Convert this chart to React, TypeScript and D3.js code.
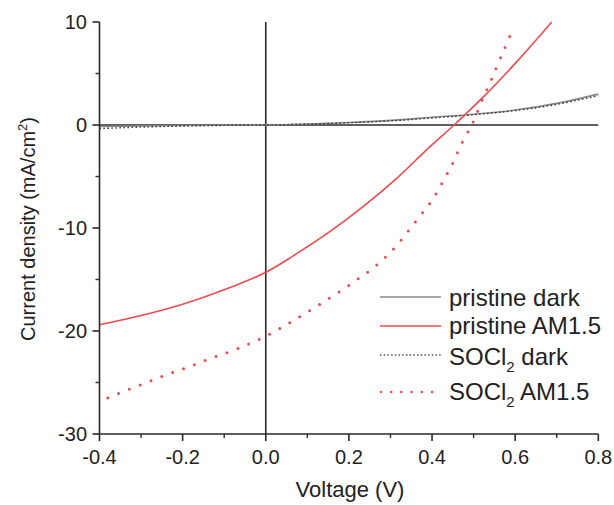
import React from "react";
import * as d3 from "d3";

const pristineDarkV = [-0.4, -0.3, -0.2, -0.1, 0, 0.1, 0.2, 0.3, 0.4, 0.5, 0.6, 0.7, 0.8];
const pristineDarkJ = [-0.15, -0.1, -0.05, -0.02, 0, 0.1, 0.25, 0.45, 0.75, 1.05, 1.45, 2.1, 3.0];

const soclDarkV = [-0.4, -0.3, -0.2, -0.1, 0, 0.1, 0.2, 0.3, 0.4, 0.5, 0.6, 0.7, 0.8];
const soclDarkJ = [-0.35, -0.2, -0.1, -0.04, 0, 0.08, 0.22, 0.4, 0.68, 1.0, 1.4, 2.0, 2.85];

const pristineLightV = [-0.4, -0.3, -0.2, -0.1, 0, 0.066, 0.154, 0.234, 0.315, 0.395, 0.453, 0.524, 0.604, 0.688];
const pristineLightJ = [-19.4, -18.5, -17.4, -16.0, -14.3, -12.7, -10.36, -7.93, -5.18, -2.1, 0, 2.75, 6.15, 10.0];

const soclLightV = [-0.38, -0.3, -0.242, -0.187, -0.131, -0.067, 0, 0.07, 0.15, 0.22, 0.27, 0.315, 0.36, 0.4, 0.43, 0.45, 0.47, 0.49, 0.5, 0.524, 0.538, 0.55, 0.573, 0.596];
const soclLightJ = [-26.5, -25.2, -24.3, -23.5, -22.65, -21.7, -20.5, -18.9, -16.9, -15.0, -13.5, -11.7, -9.4, -7.3, -5.2, -3.7, -1.9, -0.4, 0.4, 2.75, 3.95, 5.1, 7.3, 9.45];

const xTicks = [-0.4, -0.2, 0.0, 0.2, 0.4, 0.6, 0.8];
const xMinor = [-0.3, -0.1, 0.1, 0.3, 0.5, 0.7];
const yTicks = [-30, -20, -10, 0, 10];
const yMinor = [-25, -15, -5, 5];

const legendLabels = ["pristine dark", "pristine AM1.5", "SOCl", "SOCl"];

const RED = "#ee4a4f";
const GRAY = "#8a8a8a";
const AX = "#2a2a2a";

export default function App() {
  const x = d3.scaleLinear().domain([-0.4, 0.8]).range([99.5, 598.3]);
  const y = d3.scaleLinear().domain([-30, 10]).range([434, 22]);
  const line = (vs: number[], js: number[]) =>
    d3.line<number>().x((_, i) => x(vs[i])).y((_, i) => y(js[i])).curve(d3.curveCatmullRom)(vs) || "";

  const font = "'Liberation Sans', Arial, sans-serif";
  const [x0, x1] = x.range();
  const [yb, yt] = y.range();

  return (
    <svg width={614} height={505} style={{ position: "absolute", left: 0, top: 0, background: "#fff" }} fontFamily={font}>
      {/* zero lines */}
      <line x1={x0} x2={x1} y1={y(0)} y2={y(0)} stroke={AX} strokeWidth={1.6} />
      <line x1={x(0)} x2={x(0)} y1={yb} y2={yt} stroke={AX} strokeWidth={1.6} />

      {/* curves */}
      <path d={line(pristineDarkV, pristineDarkJ)} fill="none" stroke={GRAY} strokeWidth={1.6} />
      <path d={line(soclDarkV, soclDarkJ)} fill="none" stroke="#333" strokeWidth={1.4} strokeDasharray="1.5 2.5" />
      <path d={line(pristineLightV, pristineLightJ)} fill="none" stroke={RED} strokeWidth={1.6} />
      <path d={line(soclLightV, soclLightJ)} fill="none" stroke={RED} strokeWidth={3} strokeLinecap="round" strokeDasharray="0 11.6" />

      {/* axes */}
      <line x1={x0} x2={x0} y1={yb} y2={yt} stroke={AX} strokeWidth={1.6} />
      <line x1={x0} x2={x1} y1={yb} y2={yb} stroke={AX} strokeWidth={1.6} />
      {xTicks.map((t) => (
        <g key={"xt" + t}>
          <line x1={x(t)} x2={x(t)} y1={yb} y2={yb + 7} stroke={AX} strokeWidth={1.6} />
          <text x={x(t)} y={464} textAnchor="middle" fontSize={20} fill="#222">{t.toFixed(1)}</text>
        </g>
      ))}
      {xMinor.map((t) => (
        <line key={"xm" + t} x1={x(t)} x2={x(t)} y1={yb} y2={yb + 4} stroke={AX} strokeWidth={1.4} />
      ))}
      {yTicks.map((t) => (
        <g key={"yt" + t}>
          <line x1={x0} x2={x0 - 7} y1={y(t)} y2={y(t)} stroke={AX} strokeWidth={1.6} />
          <text x={87} y={y(t) + 7} textAnchor="end" fontSize={20} fill="#222">{t}</text>
        </g>
      ))}
      {yMinor.map((t) => (
        <line key={"ym" + t} x1={x0} x2={x0 - 4} y1={y(t)} y2={y(t)} stroke={AX} strokeWidth={1.4} />
      ))}

      {/* axis titles */}
      <text x={350} y={497} textAnchor="middle" fontSize={22} fill="#222">Voltage (V)</text>
      <text transform="translate(35,229) rotate(-90)" textAnchor="middle" fontSize={20} fill="#222">
        Current density (mA/cm<tspan dy={-8} fontSize={13}>2</tspan><tspan dy={8}>)</tspan>
      </text>

      {/* legend */}
      <g fontSize={24} fill="#222">
        <line x1={380} x2={441} y1={297} y2={297} stroke={GRAY} strokeWidth={1.6} />
        <text x={449} y={306}>{legendLabels[0]}</text>
        <line x1={380} x2={441} y1={326} y2={326} stroke={RED} strokeWidth={1.6} />
        <text x={449} y={334}>{legendLabels[1]}</text>
        <line x1={380} x2={441} y1={355} y2={355} stroke="#555" strokeWidth={1.3} strokeDasharray="1.5 2.2" />
        <text x={449} y={365}>{legendLabels[2]}<tspan dy={7} fontSize={15}>2</tspan><tspan dy={-7}> dark</tspan></text>
        <line x1={381} x2={441} y1={392} y2={392} stroke={RED} strokeWidth={2.6} strokeLinecap="round" strokeDasharray="0 10.2" />
        <text x={449} y={400}>{legendLabels[3]}<tspan dy={7} fontSize={15}>2</tspan><tspan dy={-7}> AM1.5</tspan></text>
      </g>
    </svg>
  );
}
